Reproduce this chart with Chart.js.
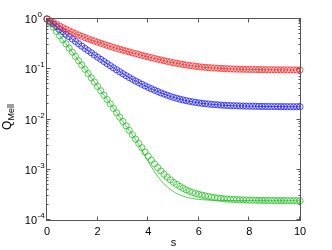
<!DOCTYPE html>
<html><head><meta charset="utf-8">
<script src="https://cdn.jsdelivr.net/npm/chart.js@4"></script>
<style>html,body{margin:0;padding:0;background:#fff}canvas{display:block}</style>
</head><body>
<canvas id="c" width="332" height="250"></canvas>
<script>
// s values (marker positions)
const s = [0,0.125,0.25,0.375,0.5,0.625,0.75,0.875,1,1.125,1.25,1.375,1.5,1.625,1.75,1.875,2,2.125,2.25,2.375,2.5,2.625,2.75,2.875,3,3.125,3.25,3.375,3.5,3.625,3.75,3.875,4,4.125,4.25,4.375,4.5,4.625,4.75,4.875,5,5.125,5.25,5.375,5.5,5.625,5.75,5.875,6,6.125,6.25,6.375,6.5,6.625,6.75,6.875,7,7.125,7.25,7.375,7.5,7.625,7.75,7.875,8,8.125,8.25,8.375,8.5,8.625,8.75,8.875,9,9.125,9.25,9.375,9.5,9.625,9.75,9.875,10];
const xTickValues = [0,2,4,6,8,10];
const yDecadeExponents = [0,-1,-2,-3,-4];
const xLabel = 's';
const yLabelMain = 'Q';
const yLabelSub = 'Mell';

// log10(Q_Mell)
const redLog10Q = [0,-0.036,-0.071,-0.106,-0.14,-0.172,-0.204,-0.235,-0.265,-0.292,-0.319,-0.345,-0.37,-0.393,-0.416,-0.438,-0.46,-0.482,-0.503,-0.524,-0.545,-0.564,-0.583,-0.602,-0.62,-0.638,-0.655,-0.673,-0.69,-0.706,-0.723,-0.739,-0.755,-0.77,-0.785,-0.8,-0.815,-0.829,-0.843,-0.857,-0.87,-0.882,-0.893,-0.904,-0.915,-0.924,-0.933,-0.942,-0.95,-0.956,-0.962,-0.967,-0.972,-0.976,-0.98,-0.984,-0.987,-0.99,-0.992,-0.995,-0.997,-0.999,-1.0,-1.002,-1.003,-1.004,-1.006,-1.007,-1.008,-1.009,-1.009,-1.01,-1.011,-1.011,-1.012,-1.012,-1.013,-1.013,-1.013,-1.014,-1.014];
const blueLog10Q = [0,-0.052,-0.103,-0.154,-0.205,-0.254,-0.303,-0.352,-0.4,-0.447,-0.494,-0.54,-0.585,-0.629,-0.673,-0.717,-0.76,-0.803,-0.845,-0.888,-0.93,-0.971,-1.011,-1.051,-1.09,-1.127,-1.164,-1.2,-1.235,-1.267,-1.299,-1.33,-1.36,-1.388,-1.416,-1.443,-1.47,-1.494,-1.517,-1.539,-1.56,-1.578,-1.595,-1.611,-1.625,-1.637,-1.649,-1.66,-1.67,-1.678,-1.685,-1.692,-1.698,-1.703,-1.708,-1.713,-1.717,-1.72,-1.723,-1.726,-1.728,-1.73,-1.732,-1.734,-1.735,-1.736,-1.737,-1.739,-1.74,-1.741,-1.741,-1.742,-1.743,-1.743,-1.744,-1.744,-1.745,-1.745,-1.745,-1.746,-1.746];
const greenMarkerLog10Q = [0,-0.083,-0.165,-0.248,-0.33,-0.413,-0.495,-0.578,-0.66,-0.745,-0.83,-0.915,-1.0,-1.085,-1.17,-1.255,-1.34,-1.428,-1.515,-1.603,-1.69,-1.778,-1.865,-1.953,-2.04,-2.128,-2.215,-2.303,-2.39,-2.477,-2.562,-2.647,-2.73,-2.807,-2.882,-2.955,-3.025,-3.09,-3.148,-3.201,-3.25,-3.292,-3.331,-3.367,-3.4,-3.428,-3.452,-3.472,-3.49,-3.505,-3.519,-3.533,-3.545,-3.555,-3.563,-3.571,-3.578,-3.583,-3.587,-3.591,-3.595,-3.598,-3.6,-3.603,-3.605,-3.606,-3.607,-3.609,-3.61,-3.611,-3.611,-3.612,-3.613,-3.613,-3.614,-3.614,-3.615,-3.615,-3.615,-3.616,-3.616];
const greenLineLog10Q = [0,-0.083,-0.165,-0.248,-0.33,-0.413,-0.495,-0.578,-0.66,-0.745,-0.83,-0.915,-1.0,-1.085,-1.17,-1.255,-1.34,-1.428,-1.515,-1.603,-1.69,-1.778,-1.865,-1.953,-2.04,-2.128,-2.215,-2.305,-2.4,-2.5,-2.61,-2.725,-2.835,-2.94,-3.04,-3.13,-3.21,-3.28,-3.34,-3.39,-3.435,-3.47,-3.5,-3.525,-3.545,-3.56,-3.572,-3.582,-3.59,-3.596,-3.6,-3.603,-3.606,-3.608,-3.609,-3.61,-3.611,-3.612,-3.612,-3.613,-3.613,-3.613,-3.614,-3.614,-3.614,-3.614,-3.615,-3.615,-3.615,-3.615,-3.615,-3.615,-3.616,-3.616,-3.616,-3.616,-3.616,-3.616,-3.616,-3.616,-3.616];

const RED = 'rgb(255,30,30)', BLUE = 'rgb(20,20,255)', GREEN = 'rgb(30,190,30)';
const toPts = arr => arr.map((v, i) => ({x: s[i], y: Math.pow(10, v)}));

function markerSet(arr, color){
  return {data: toPts(arr), showLine:false, pointStyle:'circle', pointRadius:3.1,
    pointBorderWidth:0.75, pointBorderColor:color, pointBackgroundColor:'rgba(0,0,0,0)', clip:false};
}
function lineSet(arr, color){
  return {data: toPts(arr), showLine:true, borderColor:color, borderWidth:0.75, pointRadius:0,
    tension:0, clip:false, fill:false};
}

const FONT = '"Liberation Sans", Arial, sans-serif';
const axesPlugin = {
  id:'matlabAxes',
  afterDraw(chart){
    const {ctx, chartArea:a, scales:{x, y}} = chart;
    ctx.save();
    ctx.strokeStyle = '#555';
    ctx.lineWidth = 1;
    const L = a.left - 0.5, R = a.right + 0.5, T = a.top - 0.5, B = a.bottom + 0.5;
    ctx.strokeRect(L, T, R - L, B - T);
    ctx.beginPath();
    xTickValues.forEach(v => {
      const px = Math.round(x.getPixelForValue(v)) - 0.5;
      ctx.moveTo(px, B); ctx.lineTo(px, B - 4);
      ctx.moveTo(px, T); ctx.lineTo(px, T + 4);
    });
    yDecadeExponents.forEach(e => {
      const py = Math.round(y.getPixelForValue(Math.pow(10, e))) - 0.5;
      ctx.moveTo(L, py); ctx.lineTo(L + 4, py);
      ctx.moveTo(R, py); ctx.lineTo(R - 4, py);
    });
    yDecadeExponents.forEach(e => {
      if (e === 0) return;
      for (let m = 2; m <= 9; m++) {
        const py = Math.round(y.getPixelForValue(m * Math.pow(10, e))) - 0.5;
        ctx.moveTo(L, py); ctx.lineTo(L + 2, py);
        ctx.moveTo(R, py); ctx.lineTo(R - 2, py);
      }
    });
    ctx.stroke();

    // y tick labels 10^e
    ctx.fillStyle = '#000';
    yDecadeExponents.forEach(e => {
      const py = y.getPixelForValue(Math.pow(10, e));
      ctx.font = '11px ' + FONT;
      ctx.textAlign = 'right'; ctx.textBaseline = 'middle';
      ctx.fillText('10', 37, py + 1);
      ctx.font = '8px ' + FONT;
      ctx.textAlign = 'left';
      ctx.fillText(e === 0 ? '0' : '-' + (-e), 37.5, py - 4);
    });

    // x axis title
    ctx.font = '11px ' + FONT;
    ctx.textAlign = 'center'; ctx.textBaseline = 'middle';
    ctx.fillText(xLabel, (a.left + a.right) / 2, 243);

    // y axis title Q_Mell
    ctx.save();
    ctx.translate(0, 117);
    ctx.rotate(-Math.PI / 2);
    ctx.font = '12px ' + FONT;
    const wQ = ctx.measureText(yLabelMain).width;
    ctx.font = '9px ' + FONT;
    const wS = ctx.measureText(yLabelSub).width;
    const start = -(wQ + wS) / 2;
    ctx.textAlign = 'left'; ctx.textBaseline = 'alphabetic';
    ctx.font = '12px ' + FONT;
    ctx.fillText(yLabelMain, start, 11);
    ctx.font = '9px ' + FONT;
    ctx.fillText(yLabelSub, start + wQ, 14);
    ctx.restore();
    ctx.restore();
  }
};

new Chart(document.getElementById('c'), {
  type:'scatter',
  data:{datasets:[
    lineSet(redLog10Q, RED), lineSet(blueLog10Q, BLUE), lineSet(greenLineLog10Q, GREEN),
    markerSet(redLog10Q, RED), markerSet(blueLog10Q, BLUE), markerSet(greenMarkerLog10Q, GREEN)
  ]},
  options:{
    responsive:false, animation:false, devicePixelRatio:1,
    layout:{padding:{top:19, right:32, left:0, bottom:0}},
    plugins:{legend:{display:false}, tooltip:{enabled:false}},
    scales:{
      x:{type:'linear', min:0, max:10,
        afterBuildTicks(sc){ sc.ticks = xTickValues.map(v => ({value:v})); },
        ticks:{color:'#000', font:{family:FONT, size:11}, padding:5, maxRotation:0, autoSkip:false},
        grid:{display:false, drawTicks:false}, border:{display:false},
        afterFit(sc){ sc.height = 30; }},
      y:{type:'logarithmic', min:1e-4, max:1,
        ticks:{display:false}, grid:{display:false, drawTicks:false}, border:{display:false},
        afterFit(sc){ sc.width = 47; }}
    }
  },
  plugins:[axesPlugin]
});
</script>
</body></html>
